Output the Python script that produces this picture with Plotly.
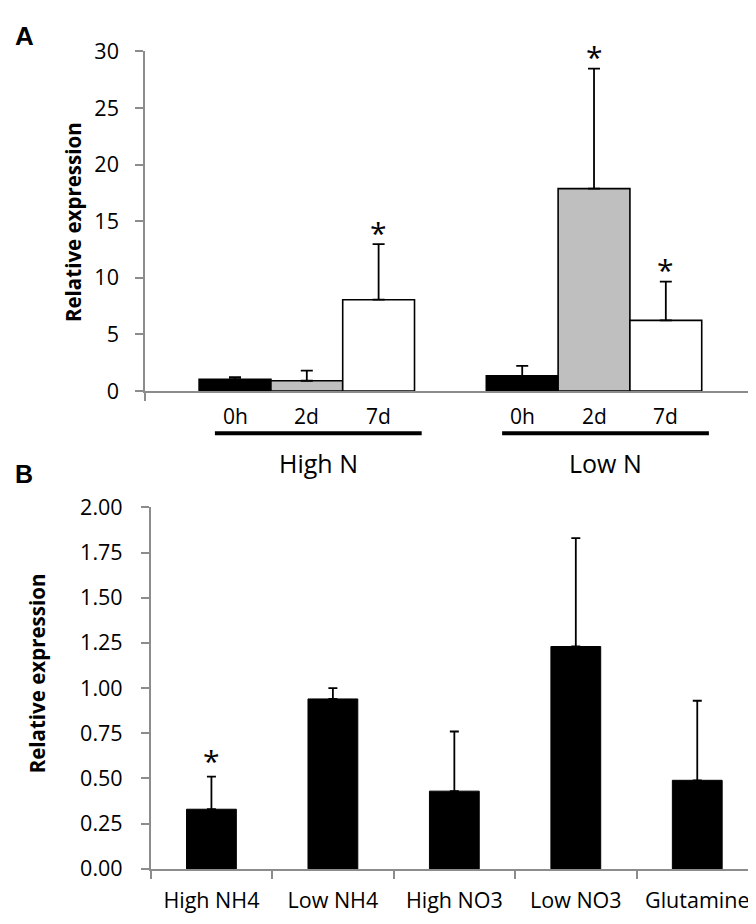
import plotly.graph_objects as go

W, H = 756, 924

# ---------------- Panel A data ----------------
groups_a = ["High N", "Low N"]
times_a = ["0h", "2d", "7d"]
colors_a = ["#000000", "#BFBFBF", "#FFFFFF"]
high_n = [1.05, 0.91, 8.07]
high_n_err = [0.18, 0.90, 4.90]
low_n = [1.34, 17.88, 6.24]
low_n_err = [0.88, 10.60, 3.43]
sig_a = [[False, False, True], [False, True, True]]
yticks_a = [0, 5, 10, 15, 20, 25, 30]

# ---------------- Panel B data ----------------
cats_b = ["High NH4", "Low NH4", "High NO3", "Low NO3", "Glutamine"]
vals_b = [0.33, 0.94, 0.43, 1.23, 0.49]
err_b = [0.18, 0.06, 0.33, 0.60, 0.44]
sig_b = [True, False, False, False, False]
yticks_b = [0, 0.25, 0.5, 0.75, 1.0, 1.25, 1.5, 1.75, 2.0]

FONT = "Open Sans"
AXIS_GREY = "#8C8C8C"
BAR_W_A = 0.25

def py(px):
    return (H - px) / H

fig = go.Figure()

vals_by_group = [high_n, low_n]
errs_by_group = [high_n_err, low_n_err]
annotations = []

for i, t in enumerate(times_a):
    xs = [g + (i - 1) * BAR_W_A for g in range(len(groups_a))]
    ys = [vals_by_group[g][i] for g in range(len(groups_a))]
    es = [errs_by_group[g][i] for g in range(len(groups_a))]
    fig.add_trace(go.Bar(
        x=xs, y=ys, width=BAR_W_A,
        marker=dict(color=colors_a[i], line=dict(color="#000000", width=1.6)),
        error_y=dict(type="data", array=es, arrayminus=[0] * len(es), symmetric=False,
                     color="#000000", thickness=1.8, width=6),
        xaxis="x", yaxis="y", showlegend=False,
    ))
    for g in range(len(groups_a)):
        annotations.append(dict(
            x=xs[g], y=py(406), xref="x", yref="paper", text=t, showarrow=False,
            xanchor="center", yanchor="middle", font=dict(family=FONT, size=21, color="#000")))
        if sig_a[g][i]:
            annotations.append(dict(
                x=xs[g], y=ys[g] + es[g], xref="x", yref="y", text="*", showarrow=False,
                xanchor="center", yanchor="middle", yshift=12,
                font=dict(family=FONT, size=30, color="#000")))

shapes = []
for g, name in enumerate(groups_a):
    shapes.append(dict(type="line", xref="x", yref="paper", x0=g - 0.32, x1=g + 0.40,
                       y0=py(423.5), y1=py(423.5), line=dict(color="#000000", width=4)))
    annotations.append(dict(
        x=g + 0.04, y=py(454), xref="x", yref="paper", text=name, showarrow=False,
        xanchor="center", yanchor="middle", font=dict(family=FONT, size=25, color="#000")))

# Panel B bars
fig.add_trace(go.Bar(
    x=cats_b, y=vals_b, width=0.41,
    marker=dict(color="#000000", line=dict(color="#000000", width=1)),
    error_y=dict(type="data", array=err_b, arrayminus=[0] * len(err_b), symmetric=False,
                 color="#000000", thickness=1.8, width=4.5),
    xaxis="x2", yaxis="y2", showlegend=False,
))
for c, v, e, s in zip(cats_b, vals_b, err_b, sig_b):
    if s:
        annotations.append(dict(
            x=c, y=v + e, xref="x2", yref="y2", text="*", showarrow=False,
            xanchor="center", yanchor="middle", yshift=16,
            font=dict(family=FONT, size=30, color="#000")))

# Panel letters and y titles
annotations += [
    dict(x=5 / W, y=py(13.5), xref="paper", yref="paper", text="<b>A</b>", showarrow=False,
         xanchor="left", yanchor="middle", font=dict(family="Liberation Sans", size=26, color="#000")),
    dict(x=5 / W, y=py(465.8), xref="paper", yref="paper", text="<b>B</b>", showarrow=False,
         xanchor="left", yanchor="middle", font=dict(family="Liberation Sans", size=25, color="#000")),
    dict(x=65.7 / W, y=py(205.8), xref="paper", yref="paper", text="<b>Relative expression</b>",
         showarrow=False, textangle=-90, xanchor="center", yanchor="middle",
         font=dict(family=FONT, size=20.5, color="#000")),
    dict(x=28.7 / W, y=py(671.7), xref="paper", yref="paper", text="<b>Relative expression</b>",
         showarrow=False, textangle=-90, xanchor="center", yanchor="middle",
         font=dict(family=FONT, size=20.5, color="#000")),
]

xa_lo, xa_hi = -0.5634, 1.564
fig.update_layout(
    width=W, height=H,
    margin=dict(l=0, r=0, t=0, b=0),
    paper_bgcolor="white", plot_bgcolor="white",
    barmode="overlay",
    font=dict(family=FONT, color="#000"),
    xaxis=dict(domain=[137 / W, 748 / W], range=[xa_lo, xa_hi], anchor="y",
               showline=True, linecolor=AXIS_GREY, linewidth=1.5,
               ticks="outside", ticklen=8, tickcolor=AXIS_GREY, tickwidth=1.5,
               tickvals=[xa_lo + 0.001, xa_hi - 0.001], ticktext=["", ""],
               showgrid=False, zeroline=False),
    yaxis=dict(domain=[py(380), py(29.3)], range=[0, 30], anchor="x",
               showline=True, linecolor=AXIS_GREY, linewidth=1.5,
               ticks="outside", ticklen=8, tickcolor=AXIS_GREY, tickwidth=1.5,
               tickvals=yticks_a, ticktext=[str(v) for v in yticks_a],
               tickfont=dict(family=FONT, size=21.5, color="#000"),
               ticklabelstandoff=12,
               showgrid=False, zeroline=False),
    xaxis2=dict(domain=[142.7 / W, 750 / W], range=[-0.5, 4.5], anchor="y2", type="category",
                showline=True, linecolor=AXIS_GREY, linewidth=1.5,
                ticks="outside", ticklen=8, tickcolor=AXIS_GREY, tickwidth=1.5,
                tickson="boundaries",
                tickfont=dict(family=FONT, size=21.5, color="#000"),
                ticklabelstandoff=12,
                showgrid=False, zeroline=False),
    yaxis2=dict(domain=[py(873.3), py(500)], range=[0, 2], anchor="x2",
                showline=True, linecolor=AXIS_GREY, linewidth=1.5,
                ticks="outside", ticklen=8, tickcolor=AXIS_GREY, tickwidth=1.5,
                tickvals=yticks_b, ticktext=[f"{v:.2f}" for v in yticks_b],
                tickfont=dict(family=FONT, size=21.5, color="#000"),
                ticklabelstandoff=14,
                showgrid=False, zeroline=False),
    annotations=annotations,
    shapes=shapes,
)

fig.write_html("out.html")
